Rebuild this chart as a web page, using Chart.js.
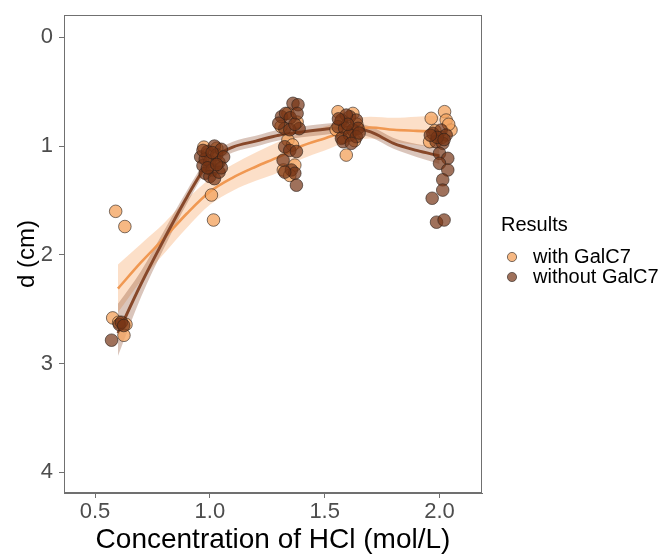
<!DOCTYPE html>
<html>
<head>
<meta charset="utf-8">
<script src="https://cdn.jsdelivr.net/npm/chart.js@4/dist/chart.umd.min.js"></script>
<style>
  html, body { margin: 0; padding: 0; background: #fff; }
  #wrap { width: 663px; height: 554px; }
</style>
</head>
<body>
<div id="wrap"><canvas id="c" width="663" height="554"></canvas></div>
<script>
// Series labels
const seriesNames = ['with GalC7', 'without GalC7'];
const legendTitle = 'Results';

// Axis ticks
const xTicks = [0.5, 1.0, 1.5, 2.0];
const yTicks = [0, 1, 2, 3, 4];

// Measurements: with GalC7
const withX = [0.59, 0.63, 0.577, 0.635, 0.626, 0.603,
  0.974, 1.007, 1.016, 0.99, 1.03, 1.00, 1.02,
  1.34, 1.34, 1.36, 1.32, 1.37, 1.348, 1.31, 1.38,
  1.594, 1.558, 1.623, 1.57, 1.64, 1.60, 1.58, 1.63, 1.55,
  1.964, 2.022, 2.029, 2.05, 1.957, 2.04, 1.98, 2.01];
const withY = [1.60, 1.74, 2.58, 2.64, 2.74, 2.62,
  1.01, 1.45, 1.68, 1.08, 1.02, 1.18, 1.12,
  0.70, 0.945, 0.99, 1.22, 1.175, 1.27, 0.82, 0.78,
  1.083, 0.684, 0.70, 0.78, 0.80, 0.88, 0.92, 0.95, 0.85,
  0.745, 0.684, 0.761, 0.853, 0.96, 0.80, 0.86, 0.92];

// Measurements: without GalC7
const withoutX = [0.572, 0.606, 0.615, 0.625,
  0.96, 0.97, 0.98, 0.99, 1.00, 1.01, 1.02, 1.03, 1.04, 1.05, 1.06, 0.98, 1.00, 1.02, 1.04, 0.97, 1.05, 1.01, 0.99, 1.03,
  1.362, 1.384, 1.312, 1.33, 1.35, 1.38, 1.389, 1.326, 1.348, 1.37, 1.30, 1.326, 1.348, 1.377, 1.319, 1.355, 1.37, 1.326, 1.377,
  1.609, 1.573, 1.638, 1.558, 1.587, 1.623, 1.645, 1.573, 1.609, 1.638, 1.58, 1.616, 1.594, 1.60, 1.56, 1.65,
  1.971, 2.007, 2.029, 1.985, 2.014, 2.0, 2.036, 2.0, 2.036, 2.014, 2.014, 1.968, 1.987, 2.02, 1.99, 2.02, 1.96];
const withoutY = [2.785, 2.64, 2.62, 2.65,
  1.10, 1.18, 1.25, 1.05, 1.14, 1.22, 1.00, 1.08, 1.15, 1.03, 1.10, 1.12, 1.28, 1.30, 1.24, 1.04, 1.20, 1.06, 1.20, 1.17,
  0.607, 0.62, 0.73, 0.70, 0.74, 0.70, 0.84, 0.84, 0.85, 0.80, 0.79, 1.006, 1.04, 1.05, 1.13, 1.22, 1.25, 1.24, 1.36,
  0.73, 0.761, 0.761, 0.822, 0.837, 0.853, 0.837, 0.929, 0.899, 0.914, 0.96, 0.975, 0.715, 0.80, 0.75, 0.88,
  0.883, 0.853, 0.899, 0.96, 0.975, 1.067, 1.113, 1.159, 1.22, 1.31, 1.405, 1.48, 1.70, 1.68, 0.92, 0.94, 0.90];

// Smoothed trend (loess) with confidence band
const smoothX = [0.6, 0.7, 0.8, 0.9, 1.0, 1.1, 1.2, 1.3, 1.4, 1.5, 1.6, 1.7, 1.8, 1.9, 2.0];
const withFit   = [2.31, 2.07, 1.85, 1.62, 1.42, 1.29, 1.19, 1.10, 1.00, 0.93, 0.86, 0.83, 0.85, 0.86, 0.87];
const withLow   = [2.09, 1.90, 1.71, 1.49, 1.30, 1.17, 1.06, 0.96, 0.88, 0.82, 0.76, 0.73, 0.74, 0.73, 0.72];
const withHigh  = [2.53, 2.24, 1.99, 1.75, 1.54, 1.41, 1.32, 1.24, 1.12, 1.04, 0.96, 0.93, 0.96, 0.99, 1.02];
const withoutFit  = [2.72, 2.27, 1.86, 1.47, 1.14, 1.01, 0.955, 0.90, 0.87, 0.845, 0.83, 0.87, 0.975, 1.04, 1.09];
const withoutLow  = [2.45, 2.15, 1.78, 1.41, 1.09, 0.96, 0.905, 0.85, 0.82, 0.795, 0.78, 0.82, 0.925, 0.98, 1.015];
const withoutHigh = [2.93, 2.39, 1.94, 1.53, 1.19, 1.06, 1.005, 0.95, 0.92, 0.895, 0.88, 0.92, 1.025, 1.10, 1.165];

const colors = {
  withPoint: 'rgba(244,164,96,0.78)',
  withoutPoint: 'rgba(118,52,22,0.7)',
  outline: 'rgba(40,30,25,0.6)',
  withLine: 'rgb(240,152,82)',
  withoutLine: 'rgb(135,72,42)',
  withBand: 'rgba(246,170,110,0.38)',
  withoutBand: 'rgba(140,75,45,0.32)'
};

const pts = (xs, ys) => xs.map((x, i) => ({ x: x, y: ys[i] }));

function bandPair(lo, hi, color, ord) {
  return [
    { label: '_hi', data: pts(smoothX, hi), showLine: true, borderWidth: 0, pointRadius: 0,
      fill: false, cubicInterpolationMode: 'monotone', order: ord, borderColor: 'rgba(0,0,0,0)' },
    { label: '_lo', data: pts(smoothX, lo), showLine: true, borderWidth: 0, pointRadius: 0,
      fill: '-1', backgroundColor: color, cubicInterpolationMode: 'monotone', order: ord, borderColor: 'rgba(0,0,0,0)' }
  ];
}

const datasets = [
  ...bandPair(withLow, withHigh, colors.withBand, 5),
  ...bandPair(withoutLow, withoutHigh, colors.withoutBand, 4),
  { label: '_fitWith', data: pts(smoothX, withFit), showLine: true, borderColor: colors.withLine,
    borderWidth: 2.6, pointRadius: 0, fill: false, cubicInterpolationMode: 'monotone', order: 3 },
  { label: '_fitWithout', data: pts(smoothX, withoutFit), showLine: true, borderColor: colors.withoutLine,
    borderWidth: 3, pointRadius: 0, fill: false, cubicInterpolationMode: 'monotone', order: 2 },
  { label: seriesNames[0], data: pts(withX, withY), backgroundColor: colors.withPoint,
    borderColor: colors.outline, borderWidth: 1, pointRadius: 6.3, order: 1 },
  { label: seriesNames[1], data: pts(withoutX, withoutY), backgroundColor: colors.withoutPoint,
    borderColor: colors.outline, borderWidth: 1, pointRadius: 6.3, order: 0 }
];

// Frame around the panel
const panelBox = {
  id: 'panelBox',
  afterDatasetsDraw(chart) {
    const a = chart.chartArea, ctx = chart.ctx;
    ctx.save();
    ctx.strokeStyle = '#707070';
    ctx.lineWidth = 1;
    ctx.strokeRect(Math.round(a.left) + 0.5, Math.round(a.top) + 0.5,
      Math.round(a.right - a.left) - 1, Math.round(a.bottom - a.top) - 1);
    ctx.restore();
  }
};

// Legend on the right
const sideLegend = {
  id: 'sideLegend',
  afterDraw(chart) {
    const ctx = chart.ctx;
    const x0 = chart.chartArea.right + 19;
    ctx.save();
    ctx.fillStyle = '#000';
    ctx.font = '20px "Liberation Sans", Arial, sans-serif';
    ctx.textBaseline = 'middle';
    ctx.textAlign = 'left';
    ctx.fillText(legendTitle, x0, 225);
    const items = chart.data.datasets.filter(d => seriesNames.includes(d.label));
    items.forEach((d, i) => {
      const cy = 257 + i * 20;
      ctx.beginPath();
      ctx.arc(x0 + 11, cy, 4.6, 0, Math.PI * 2);
      ctx.fillStyle = d.backgroundColor;
      ctx.fill();
      ctx.strokeStyle = d.borderColor;
      ctx.lineWidth = 1;
      ctx.stroke();
      ctx.fillStyle = '#000';
      ctx.font = '20px "Liberation Sans", Arial, sans-serif';
      ctx.fillText(d.label, x0 + 32, cy);
    });
    ctx.restore();
  }
};

const tickFont = { family: '"Liberation Sans", Arial, sans-serif', size: 22 };

new Chart(document.getElementById('c'), {
  type: 'scatter',
  data: { datasets },
  options: {
    responsive: false,
    animation: false,
    devicePixelRatio: 1,
    layout: { padding: { top: 15, right: 181, bottom: 0, left: 0 } },
    plugins: { legend: { display: false }, tooltip: { enabled: false } },
    scales: {
      x: {
        type: 'linear', min: 0.365, max: 2.185,
        afterBuildTicks: s => { s.ticks = xTicks.map(v => ({ value: v })); },
        afterFit: s => { s.height = 61; s.paddingLeft = 0; s.paddingRight = 0; },
        ticks: { font: tickFont, color: '#4d4d4d', padding: 1, callback: v => v.toFixed(1) },
        grid: { drawOnChartArea: false, drawTicks: true, tickLength: 5, color: '#707070' },
        border: { display: true, color: '#707070' },
        title: { display: true, text: 'Concentration of HCl (mol/L)', color: '#000',
          font: { family: '"Liberation Sans", Arial, sans-serif', size: 28, lineHeight: 1 },
          padding: { top: 0, bottom: 0 } }
      },
      y: {
        type: 'linear', min: -0.205, max: 4.19, reverse: true,
        afterBuildTicks: s => { s.ticks = yTicks.map(v => ({ value: v })); },
        afterFit: s => { s.width = 64; s.paddingTop = 0; s.paddingBottom = 0; },
        ticks: { font: tickFont, color: '#4d4d4d', padding: 6, callback: v => String(v) },
        grid: { drawOnChartArea: false, drawTicks: true, tickLength: 5, color: '#707070' },
        border: { display: true, color: '#707070' },
        title: { display: true, text: 'd (cm)', color: '#000',
          font: { family: '"Liberation Sans", Arial, sans-serif', size: 24, lineHeight: 1 },
          padding: { top: 15, bottom: 0 } }
      }
    }
  },
  plugins: [panelBox, sideLegend]
});
</script>
</body>
</html>
